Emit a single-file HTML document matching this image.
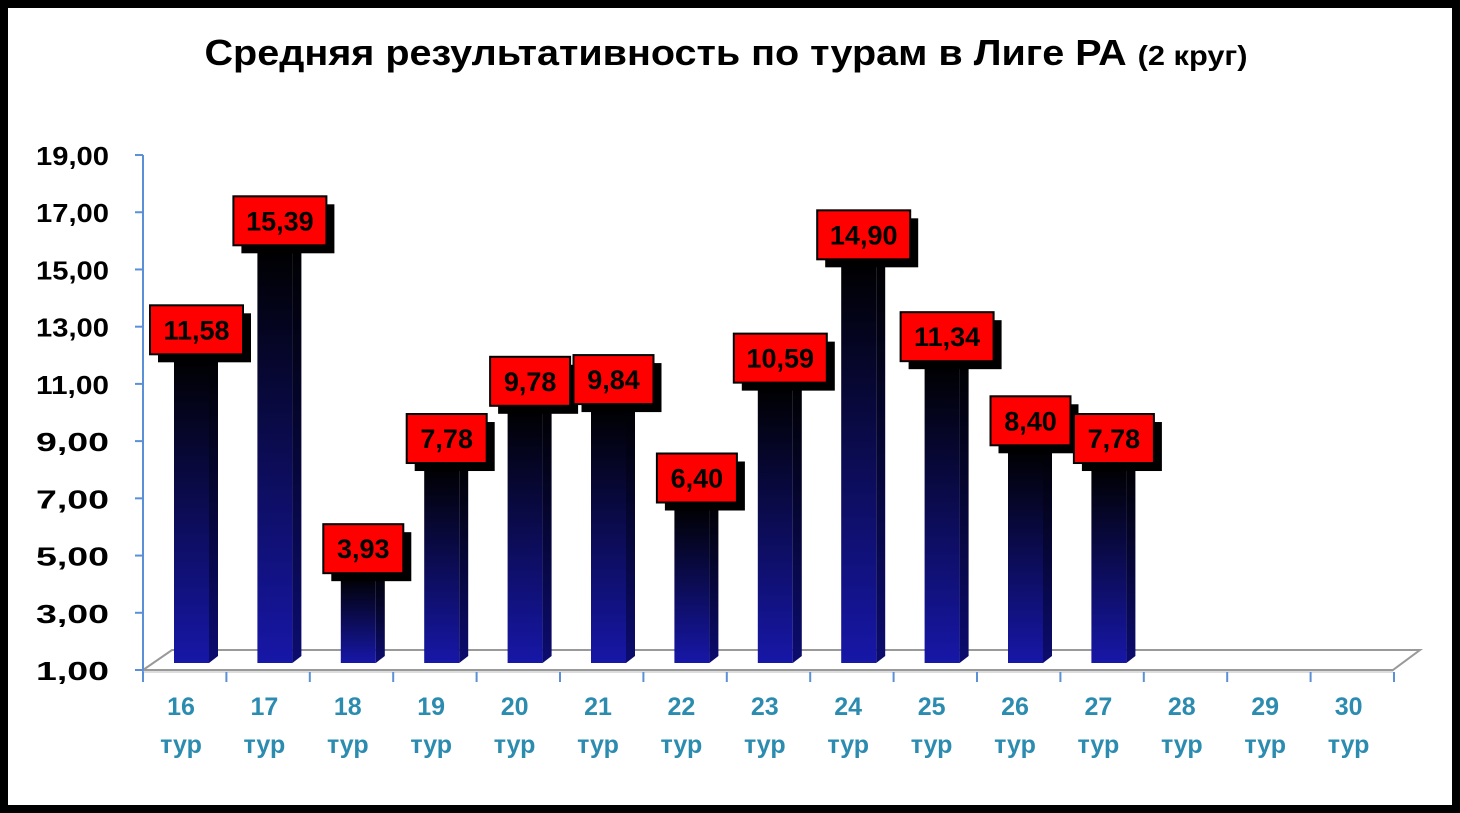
<!DOCTYPE html>
<html><head><meta charset="utf-8"><style>
body{margin:0;background:#000;}
#frame{position:absolute;left:8px;top:8px;width:1444px;height:797px;background:#fff;}
svg{position:absolute;left:0;top:0;font-family:"Liberation Sans",sans-serif;}
</style></head><body>
<div id="frame"></div>
<svg id="chart" width="1460" height="813">
<defs>
<linearGradient id="gf" x1="0" y1="0" x2="0" y2="1"><stop offset="0" stop-color="#000"/><stop offset="1" stop-color="#1717a8"/></linearGradient>
<linearGradient id="gs" x1="0" y1="0" x2="0" y2="1"><stop offset="0" stop-color="#000"/><stop offset="1" stop-color="#0c0c70"/></linearGradient>
</defs>
<text x="726" y="65" text-anchor="middle" font-size="36" font-weight="bold" textLength="1043" lengthAdjust="spacingAndGlyphs">Средняя результативность по турам в Лиге РА <tspan font-size="28">(2 круг)</tspan></text>
<g id="g"></g>
</svg>
<script>
const categories=["16","17","18","19","20","21","22","23","24","25","26","27","28","29","30"];
const values=[11.58,15.39,3.93,7.78,9.78,9.84,6.40,10.59,14.90,11.34,8.40,7.78,null,null,null];
const yTicks=[1,3,5,7,9,11,13,15,17,19];
const g=document.getElementById('g');
const NS='http://www.w3.org/2000/svg';
function y(v){return 670-(v-1)*28.61;}
function x(i){return 185+i*83.4;}
function mk(t,a,p){const e=document.createElementNS(NS,t);for(const k in a)e.setAttribute(k,a[k]);(p||g).appendChild(e);return e;}
let fl=mk('polygon',{points:"143,670 1393,670 1420,650 172,650",fill:"#fff",stroke:"#999","stroke-width":2});


let ax=mk('line',{x1:143,y1:155,x2:143,y2:672,stroke:"#5b8fd6","stroke-width":2});


let ax2=mk('line',{x1:143,y1:672,x2:1393,y2:672,stroke:"#bbb","stroke-width":1});


yTicks.forEach(t=>{
 const yy=y(t);
 let l=mk('line',{x1:135,y1:yy,x2:143,y2:yy,stroke:"#5b8fd6","stroke-width":2});
 
 
 let tx=mk('text',{x:109,y:yy+10,"text-anchor":"end","font-size":26,"font-weight":"bold",fill:"#000",textLength:73,lengthAdjust:"spacingAndGlyphs"});
 tx.textContent=t.toFixed(2).replace('.',',');
 
 
});
for(let i=0;i<=categories.length;i++){
 const xx=143+i*83.4;
 let l=mk('line',{x1:xx,y1:672,x2:xx,y2:682,stroke:"#5b8fd6","stroke-width":2});
 
 
}
categories.forEach((c,i)=>{
 const cx=x(i)-4;
 let t=mk('text',{x:cx,y:715,"text-anchor":"middle","font-size":25,"font-weight":"bold",fill:"#2b8cb0"});
 t.textContent=c;
 
 
 let t2=mk('text',{x:cx,y:753,"text-anchor":"middle","font-size":25,"font-weight":"bold",fill:"#2b8cb0"});
 t2.textContent="тур";
 
 
});
values.forEach((v,i)=>{
 if(v==null)return;
 const l=x(i)-11, w=35, d=9, top=y(v)-10, bot=663;
 let gr=mk('g',{});
 
 
 mk('rect',{x:l,y:top,width:w,height:bot-top,fill:"url(#gf)"},gr);
 mk('polygon',{points:`${l+w},${top} ${l+w+d},${top-6} ${l+w+d},${bot-7} ${l+w},${bot}`,fill:"url(#gs)"},gr);
 mk('polygon',{points:`${l},${top} ${l+d},${top-6} ${l+w+d},${top-6} ${l+w},${top}`,fill:"#000"},gr);
 const txt=v.toFixed(2).replace('.',',');
 const bw=txt.length>4?93:80, cx=l+w/2+5, cy=top-28;
 let lb=mk('g',{});
 
 
 mk('rect',{x:cx-bw/2+8,y:cy-24+8,width:bw,height:49,fill:"#000"},lb);
 mk('rect',{x:cx-bw/2,y:cy-24,width:bw,height:49,fill:"#ff0000",stroke:"#000","stroke-width":2},lb);
 let t=mk('text',{x:cx,y:cy+10,"text-anchor":"middle","font-size":27,"font-weight":"bold",fill:"#000"},lb);
 t.textContent=txt;
});
</script>
</body></html>
